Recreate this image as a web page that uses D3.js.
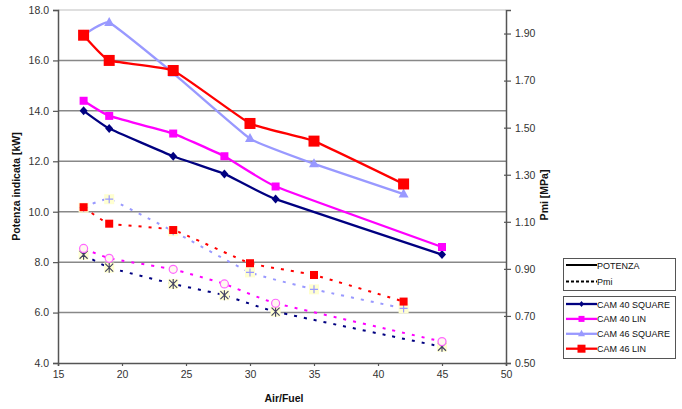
<!DOCTYPE html>
<html>
<head>
<meta charset="utf-8">
<script src="https://cdn.jsdelivr.net/npm/d3@7"></script>
<style>
  body { margin: 0; background: #fff; }
  svg { display: block; font-family: "Liberation Sans", Arial, sans-serif; }
</style>
</head>
<body>
<svg id="chart" width="682" height="409"></svg>
<script>
// ---- data ----
const airFuelCam40 = [17, 19, 24, 28, 32, 45];
const airFuelCam46 = [17, 19, 24, 30, 35, 42];

const potenzaCam40Square = [14.0, 13.3, 12.2, 11.5, 10.5, 8.3];
const potenzaCam40Lin    = [14.4, 13.8, 13.1, 12.2, 11.0, 8.6];
const potenzaCam46Square = [17.0, 17.5, 15.5, 12.9, 11.9, 10.7];
const potenzaCam46Lin    = [17.0, 16.0, 15.6, 13.5, 12.8, 11.1];

const pmiCam40Square = [0.960, 0.905, 0.836, 0.788, 0.718, 0.569];
const pmiCam40Lin    = [0.987, 0.945, 0.898, 0.836, 0.754, 0.591];
const pmiCam46Square = [1.160, 1.196, 1.060, 0.885, 0.813, 0.732];
const pmiCam46Lin    = [1.162, 1.092, 1.065, 0.924, 0.874, 0.761];

const xTicks = [15, 20, 25, 30, 35, 40, 45, 50];
const leftTicks = [4, 6, 8, 10, 12, 14, 16, 18];
const rightTicks = [0.5, 0.7, 0.9, 1.1, 1.3, 1.5, 1.7, 1.9];

const seriesNames = ["CAM 40 SQUARE", "CAM 40 LIN", "CAM 46 SQUARE", "CAM 46 LIN"];
const seriesColors = ["#000080", "#FF00FF", "#9999FF", "#FF0000"];

// ---- layout ----
const svg = d3.select("#chart");
const L = 58, R = 506, T = 10, B = 363;

const x = d3.scaleLinear().domain([15, 50]).range([L, R]);
const yL = d3.scaleLinear().domain([4, 18]).range([B, T]);
const yR = d3.scaleLinear().domain([0.5, 2.0]).range([B, T]);

// gridlines
svg.append("g").selectAll("line").data(leftTicks.filter(d => d > 4))
  .join("line")
  .attr("x1", L).attr("x2", R)
  .attr("y1", d => yL(d)).attr("y2", d => yL(d))
  .attr("stroke", d => d === 18 ? "#c0c0c0" : "#888")
  .attr("stroke-width", d => d === 18 ? 1.2 : 1.5);

// axes
const axisColor = "#555";
const gx = svg.append("g").attr("transform", `translate(0,${B})`)
  .call(d3.axisBottom(x).tickValues(xTicks).tickSize(3).tickPadding(5).tickFormat(d3.format("d")));
const gl = svg.append("g").attr("transform", `translate(${L},0)`)
  .call(d3.axisLeft(yL).tickValues(leftTicks).tickSize(5).tickPadding(4).tickFormat(d3.format(".1f")));
const gr = svg.append("g").attr("transform", `translate(${R},0)`)
  .call(d3.axisRight(yR).tickValues(rightTicks).tickSize(5).tickPadding(4).tickFormat(d3.format(".2f")));
[gx, gl, gr].forEach(g => {
  g.select(".domain").attr("stroke", axisColor).attr("stroke-width", 1.5);
  g.selectAll(".tick line").attr("stroke", axisColor).attr("stroke-width", 1.2);
  g.selectAll(".tick text").attr("fill", "#333").style("font-size", "10.5px")
    .style("font-family", "'Liberation Sans', Arial, sans-serif");
});
gr.selectAll(".tick line").attr("x1", -2);

// axis titles
svg.append("text").attr("transform", `translate(20,${(T + B) / 2}) rotate(-90)`)
  .attr("text-anchor", "middle").attr("font-weight", "bold").attr("font-size", 10.5)
  .attr("fill", "#111").text("Potenza indicata [kW]");
svg.append("text").attr("transform", `translate(548,195) rotate(-90)`)
  .attr("text-anchor", "middle").attr("font-weight", "bold").attr("font-size", 10.5)
  .attr("fill", "#111").text("Pmi [MPa]");
svg.append("text").attr("x", 284).attr("y", 402)
  .attr("text-anchor", "middle").attr("font-weight", "bold").attr("font-size", 10.5)
  .attr("fill", "#111").text("Air/Fuel");

// ---- series ----
const curve = d3.curveCardinal.tension(0.65);
const powerSeries = [
  { xs: airFuelCam40, ys: potenzaCam40Square, i: 0, marker: "diamond" },
  { xs: airFuelCam40, ys: potenzaCam40Lin,    i: 1, marker: "square" },
  { xs: airFuelCam46, ys: potenzaCam46Square, i: 2, marker: "triangle" },
  { xs: airFuelCam46, ys: potenzaCam46Lin,    i: 3, marker: "bigsquare" }
];
const pmiSeries = [
  { xs: airFuelCam40, ys: pmiCam40Square, i: 0, marker: "star" },
  { xs: airFuelCam40, ys: pmiCam40Lin,    i: 1, marker: "circle" },
  { xs: airFuelCam46, ys: pmiCam46Square, i: 2, marker: "plus" },
  { xs: airFuelCam46, ys: pmiCam46Lin,    i: 3, marker: "smallsquare" }
];

function drawMarker(g, type, cx, cy, color) {
  if (type === "diamond") {
    g.append("path").attr("d", `M${cx},${cy - 4.5}L${cx + 4},${cy}L${cx},${cy + 4.5}L${cx - 4},${cy}Z`).attr("fill", color);
  } else if (type === "square") {
    g.append("rect").attr("x", cx - 4).attr("y", cy - 4).attr("width", 8).attr("height", 8).attr("fill", color);
  } else if (type === "triangle") {
    g.append("path").attr("d", `M${cx},${cy - 5.5}L${cx + 5},${cy + 3.5}L${cx - 5},${cy + 3.5}Z`).attr("fill", color);
  } else if (type === "bigsquare") {
    g.append("rect").attr("x", cx - 5.5).attr("y", cy - 5.5).attr("width", 11).attr("height", 11).attr("fill", color);
  } else if (type === "smallsquare") {
    g.append("rect").attr("x", cx - 4).attr("y", cy - 4).attr("width", 8).attr("height", 8).attr("fill", color);
  } else if (type === "circle") {
    g.append("circle").attr("cx", cx).attr("cy", cy).attr("r", 4).attr("fill", "#fff8f0")
      .attr("stroke", "#ff66ff").attr("stroke-width", 1.2);
  } else if (type === "plus") {
    g.append("rect").attr("x", cx - 5).attr("y", cy - 5).attr("width", 10).attr("height", 10).attr("fill", "#ffffd0");
    g.append("path").attr("d", `M${cx - 4},${cy}H${cx + 4}M${cx},${cy - 4}V${cy + 4}`)
      .attr("stroke", color).attr("stroke-width", 1.2);
  } else if (type === "star") {
    g.append("rect").attr("x", cx - 5).attr("y", cy - 5).attr("width", 10).attr("height", 10).attr("fill", "#ffffd0");
    g.append("path").attr("d", `M${cx - 4},${cy - 4}L${cx + 4},${cy + 4}M${cx + 4},${cy - 4}L${cx - 4},${cy + 4}M${cx},${cy - 5}V${cy + 5}`)
      .attr("stroke", "#404060").attr("stroke-width", 1.1);
  }
}

// dashed Pmi lines (right axis)
pmiSeries.forEach(s => {
  const pts = s.xs.map((v, k) => [x(v), yR(s.ys[k])]);
  svg.append("path").attr("d", d3.line().curve(curve)(pts))
    .attr("fill", "none").attr("stroke", seriesColors[s.i]).attr("stroke-width", 2)
    .attr("stroke-dasharray", "3,7");
});
pmiSeries.forEach(s => {
  const g = svg.append("g");
  s.xs.forEach((v, k) => drawMarker(g, s.marker, x(v), yR(s.ys[k]), seriesColors[s.i]));
});

// solid POTENZA lines (left axis)
powerSeries.forEach(s => {
  const pts = s.xs.map((v, k) => [x(v), yL(s.ys[k])]);
  svg.append("path").attr("d", d3.line().curve(curve)(pts))
    .attr("fill", "none").attr("stroke", seriesColors[s.i]).attr("stroke-width", 2.3);
});
powerSeries.forEach(s => {
  const g = svg.append("g");
  s.xs.forEach((v, k) => drawMarker(g, s.marker, x(v), yL(s.ys[k]), seriesColors[s.i]));
});

// ---- legends ----
const lg1 = svg.append("g");
lg1.append("rect").attr("x", 563.5).attr("y", 258.5).attr("width", 112).attr("height", 32)
  .attr("fill", "#fff").attr("stroke", "#555").attr("stroke-width", 1);
[["POTENZA", null], ["Pmi", "3,2"]].forEach((d, k) => {
  const yy = 265 + k * 16.5;
  lg1.append("line").attr("x1", 566).attr("x2", 597).attr("y1", yy).attr("y2", yy)
    .attr("stroke", "#000").attr("stroke-width", 2).attr("stroke-dasharray", d[1]);
  lg1.append("text").attr("x", 597).attr("y", yy + 3.5).attr("font-size", 9).attr("fill", "#111").text(d[0]);
});

const lg2 = svg.append("g");
lg2.append("rect").attr("x", 563.5).attr("y", 296.5).attr("width", 112).attr("height", 62)
  .attr("fill", "#fff").attr("stroke", "#555").attr("stroke-width", 1);
const legendMarkers = ["diamond", "square", "triangle", "bigsquare"];
seriesNames.forEach((name, k) => {
  const yy = 304 + k * 14.9;
  lg2.append("line").attr("x1", 566).attr("x2", 597).attr("y1", yy).attr("y2", yy)
    .attr("stroke", seriesColors[k]).attr("stroke-width", 2.3);
  const g = lg2.append("g");
  const m = legendMarkers[k];
  if (m === "diamond") {
    g.append("path").attr("d", `M581.5,${yy - 3}L584,${yy}L581.5,${yy + 3}L579,${yy}Z`).attr("fill", seriesColors[k]);
  } else if (m === "square") {
    g.append("rect").attr("x", 578.5).attr("y", yy - 3).attr("width", 6).attr("height", 6).attr("fill", seriesColors[k]);
  } else if (m === "triangle") {
    g.append("path").attr("d", `M581.5,${yy - 4}L585,${yy + 2.5}L578,${yy + 2.5}Z`).attr("fill", seriesColors[k]);
  } else {
    g.append("rect").attr("x", 577.5).attr("y", yy - 4).attr("width", 8).attr("height", 8).attr("fill", seriesColors[k]);
  }
  lg2.append("text").attr("x", 597).attr("y", yy + 3.5).attr("font-size", 9).attr("fill", "#111").text(name);
});
</script>
</body>
</html>
